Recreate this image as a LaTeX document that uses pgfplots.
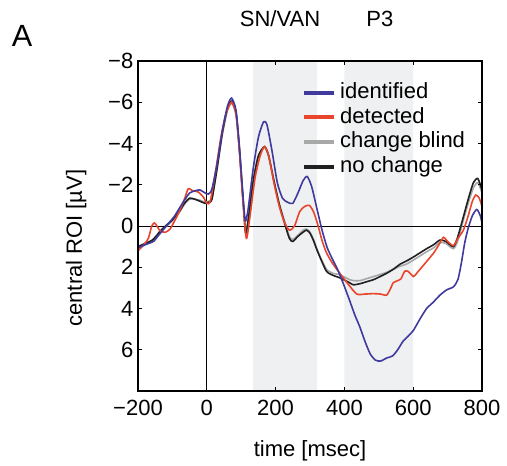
\documentclass[border=0pt]{standalone}
\usepackage{fontspec}
\setmainfont{Liberation Sans}
\usepackage{pgfplots}
\pgfplotsset{compat=1.18}
\definecolor{cblue}{HTML}{40399E}
\definecolor{cred}{HTML}{E8452C}
\definecolor{cgray}{HTML}{A8A8A8}
\definecolor{cblack}{HTML}{202020}
\definecolor{shade}{HTML}{EEF0F2}
\newcommand\fs{\fontsize{16.5}{19.8}\selectfont}
\begin{document}
\begin{tikzpicture}[font=\fs]
\begin{axis}[
  at={(0,0)}, anchor=south west,
  scale only axis, width=258pt, height=247.5pt,
  clip mode=individual,
  xmin=-200, xmax=800, ymin=-8, ymax=8, y dir=reverse,
  xtick={-200,0,200,400,600,800}, xticklabels={−200,0,200,400,600,800},
  ytick={-8,-6,-4,-2,0,2,4,6}, yticklabels={−8,−6,−4,−2,0,2,4,6},
  tick align=inside, major tick length=3pt,
  tick style={line width=0.6pt, black},
  axis line style={line width=1.2pt, black},
  axis on top,
  tick label style={font=\fs},
  xticklabel style={yshift=-3.5pt},
  label style={font=\fs},
  xlabel={time [msec]}, ylabel={central ROI [µV]},
  xlabel style={at={(rel axis cs:0.5,-0.18)}, anchor=center},
  ylabel style={at={(rel axis cs:-0.18,0.433)}, anchor=center},
  legend image code/.code={\draw[#1] (0pt,0pt) -- (22.5pt,0pt);},
  legend style={at={(rel axis cs:0.4767,0.942)}, anchor=north west,
    draw=none, fill=none, inner sep=0pt, row sep=0pt, font=\fs,
    nodes={inner xsep=3pt, inner ysep=1pt, text height=12.5pt, text depth=4pt}},
  legend cell align=left,
]
\addplot[fill=shade, draw=none, forget plot] coordinates {(135,-8) (320,-8) (320,8) (135,8)} \closedcycle;
\addplot[fill=shade, draw=none, forget plot] coordinates {(400,-8) (600,-8) (600,8) (400,8)} \closedcycle;
\addplot[black, line width=0.6pt, forget plot] coordinates {(-200,0) (800,0)};
\addplot[black, line width=0.6pt, forget plot] coordinates {(0,-8) (0,8)};

\addlegendimage{cblue, line width=3pt}
\addlegendentry{identified}
\addlegendimage{cred, line width=3pt}
\addlegendentry{detected}
\addlegendimage{cgray, line width=3pt}
\addlegendentry{change blind}
\addlegendimage{cblack, line width=3pt}
\addlegendentry{no change}

% change blind
\addplot[cgray, line width=1.2pt, smooth, tension=0.4, forget plot] coordinates {
(-200,1.05) (-180,0.9) (-160,0.75) (-145,0.5) (-136,0.3) (-120,0.05) (-100,-0.25) (-80,-0.65)
(-65,-1.05) (-50,-1.3) (-35,-1.3) (-20,-1.25) (-5,-1.15) (5,-1.2) (15,-1.35) (30,-2.8)
(45,-4.4) (60,-5.6) (72,-5.95) (85,-5.4) (95,-3.6) (105,-1.3) (113,0.3) (122,-0.5)
(135,-2.2) (150,-3.4) (168,-3.8) (180,-3.35) (195,-2.2) (210,-1.1) (225,-0.3) (240,0.5)
(250,0.65) (265,0.45) (280,0.2) (290,0.15) (300,0.3) (310,0.65) (320,1.1) (330,1.5)
(348,2.1) (368,2.3) (385,2.35) (397,2.45) (415,2.6) (426,2.65) (445,2.65) (465,2.55)
(485,2.45) (504,2.35) (522,2.25) (542,2.1) (562,1.95) (580,1.85) (601,1.65) (620,1.45)
(639,1.25) (660,1.05) (678,0.8) (695,0.85) (717,1.1) (730,0.7) (746,-0.3) (760,-1.1)
(775,-1.85) (788,-2.1) (800,-1.6)};
% no change
\addplot[cblack, line width=1.2pt, smooth, tension=0.4, forget plot] coordinates {
(-200,1.0) (-180,0.85) (-160,0.7) (-145,0.45) (-136,0.25) (-120,0.0) (-100,-0.3) (-80,-0.7)
(-65,-1.1) (-50,-1.35) (-35,-1.3) (-20,-1.2) (-5,-1.1) (5,-1.15) (15,-1.3) (30,-2.8)
(45,-4.5) (60,-5.7) (72,-6.05) (85,-5.5) (95,-3.7) (105,-1.4) (113,0.35) (122,-0.5)
(135,-2.2) (150,-3.4) (168,-3.85) (180,-3.4) (195,-2.2) (210,-1.1) (225,-0.2) (240,0.6)
(250,0.75) (265,0.5) (280,0.3) (290,0.2) (300,0.35) (310,0.7) (320,1.15) (330,1.55)
(348,2.2) (368,2.4) (385,2.5) (397,2.6) (415,2.75) (426,2.85) (445,2.8) (465,2.7)
(485,2.6) (504,2.45) (522,2.3) (542,2.1) (562,1.85) (580,1.7) (601,1.5) (620,1.3)
(639,1.1) (660,0.9) (678,0.68) (695,0.75) (717,1.0) (730,0.5) (746,-0.45) (760,-1.3)
(775,-2.1) (788,-2.3) (800,-1.75)};
% detected
\addplot[cred, line width=1.2pt, smooth, tension=0.4, forget plot] coordinates {
(-200,1.2) (-185,0.95) (-170,0.6) (-160,0.0) (-152,-0.15) (-145,0.0) (-135,0.25) (-120,0.3)
(-107,0.15) (-95,-0.2) (-80,-0.7) (-65,-1.3) (-54,-1.8) (-40,-1.7) (-25,-1.65) (-10,-1.4)
(0,-1.1) (10,-1.2) (25,-2.6) (40,-4.2) (55,-5.4) (72,-6.0) (85,-5.4) (95,-3.6)
(105,-1.2) (115,0.6) (125,-0.4) (140,-2.3) (155,-3.4) (168,-3.85) (180,-3.4) (195,-2.1)
(210,-1.0) (225,-0.2) (240,0.2) (255,0.0) (270,-0.7) (285,-0.95) (298,-1.0) (310,-0.7)
(322,-0.1) (335,0.7) (348,1.3) (365,1.8) (387,2.3) (410,2.8) (436,3.3) (460,3.3)
(484,3.28) (505,3.3) (523,3.35) (535,3.0) (542,2.75) (555,2.65) (565,2.55) (575,2.2)
(585,2.2) (601,2.45) (612,2.25) (625,2.0) (645,1.6) (660,1.3) (675,0.9) (688,0.55)
(700,0.75) (717,0.95) (730,0.6) (746,0.2) (760,-0.5) (772,-1.2) (782,-1.5) (792,-1.35)
(800,-0.95)};
% identified
\addplot[cblue, line width=1.2pt, smooth, tension=0.4, forget plot] coordinates {
(-200,1.05) (-185,0.95) (-170,0.85) (-155,0.75) (-140,0.45) (-125,0.15) (-110,-0.15) (-95,-0.45)
(-80,-0.85) (-65,-1.25) (-50,-1.6) (-35,-1.7) (-20,-1.75) (-5,-1.6) (5,-1.55) (15,-1.8)
(30,-3.0) (45,-4.6) (60,-5.8) (72,-6.2) (85,-5.6) (95,-3.8) (105,-1.5) (112,-0.25)
(120,-0.8) (135,-2.8) (150,-4.3) (165,-5.05) (175,-4.9) (190,-3.6) (205,-2.1) (220,-1.35)
(235,-1.15) (250,-1.1) (265,-1.6) (280,-2.2) (292,-2.4) (305,-1.9) (320,-0.85) (335,0.2)
(350,1.05) (365,1.6) (380,2.1) (397,2.8) (415,3.6) (430,4.3) (445,4.9) (460,5.6)
(475,6.2) (490,6.5) (505,6.55) (523,6.4) (540,6.3) (555,6.0) (570,5.6) (585,5.35)
(601,5.05) (620,4.5) (639,4.0) (658,3.7) (678,3.35) (697,3.1) (717,2.95) (730,2.6)
(740,1.8) (750,0.8) (760,0.1) (772,-0.5) (785,-0.8) (795,-0.5) (800,-0.15)};

\node[font=\fs, anchor=center] at (rel axis cs:0.413,1.127) {SN/VAN};
\node[font=\fs, anchor=center] at (rel axis cs:0.703,1.127) {P3};
\node[font=\fontsize{23}{27}\selectfont, anchor=center] at (rel axis cs:-0.337,1.076) {A};
\end{axis}
\pgfresetboundingbox
\useasboundingbox (-103.5pt,-56.25pt) rectangle (276.75pt,293.25pt);
\end{tikzpicture}
\end{document}
